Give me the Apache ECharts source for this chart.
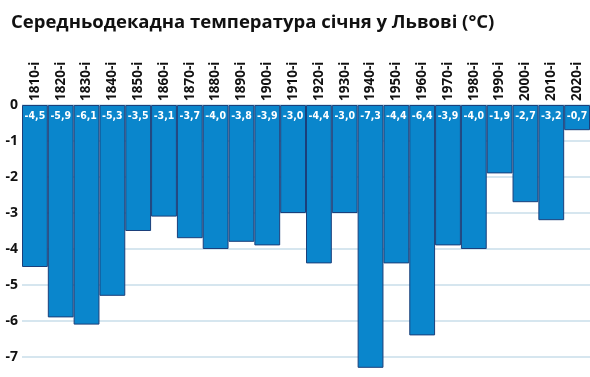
<!DOCTYPE html>
<html>
<head>
<meta charset="utf-8">
<script src="https://cdn.jsdelivr.net/npm/echarts@6/dist/echarts.min.js"></script>
<style>
  html, body { margin: 0; padding: 0; background: #fff; overflow: hidden; height: 377px; }
  #chart { width: 590px; height: 393px; }
</style>
</head>
<body>
<div id="chart"></div>
<script>
// декади і середня температура січня
const decades = ['1810-і', '1820-і', '1830-і', '1840-і', '1850-і', '1860-і', '1870-і', '1880-і',
  '1890-і', '1900-і', '1910-і', '1920-і', '1930-і', '1940-і', '1950-і', '1960-і',
  '1970-і', '1980-і', '1990-і', '2000-і', '2010-і', '2020-і'];
const temps = [-4.5, -5.9, -6.1, -5.3, -3.5, -3.1, -3.7, -4.0, -3.8, -3.9, -3.0,
  -4.4, -3.0, -7.3, -4.4, -6.4, -3.9, -4.0, -1.9, -2.7, -3.2, -0.7];
const yTicks = [0, -1, -2, -3, -4, -5, -6, -7];

let chart = echarts.init(document.getElementById('chart'));

let option = {
  animation: false,
  title: {
    text: 'Середньодекадна температура січня у Львові (°C)',
    left: 6,
    top: 8,
    textStyle: {
      fontFamily: 'Open Sans',
      fontWeight: 'bold',
      fontSize: 18.5,
      color: '#111',
    },
  },
  grid: {
    left: 22,
    right: 0,
    top: 105,
    bottom: 0,
  },
  xAxis: {
    type: 'category',
    position: 'top',
    data: decades,
    axisLine: { show: false },
    axisTick: { show: false },
    axisLabel: {
      rotate: 90,
      margin: 4,
      fontFamily: 'Open Sans',
      fontWeight: 'bold',
      fontSize: 13.5,
      color: '#111',
    },
  },
  yAxis: {
    type: 'value',
    min: -8,
    max: 0,
    interval: 1,
    axisLine: { show: false },
    axisTick: { show: false },
    splitLine: {
      lineStyle: { color: '#d6e6ef', width: 2 },
    },
    axisLabel: {
      margin: 4,
      fontFamily: 'Open Sans',
      fontWeight: 'bold',
      fontSize: 14,
      color: '#111',
      formatter: function(v) {
        return yTicks.indexOf(v) >= 0 ? String(v) : '';
      },
    },
  },
  series: [
    {
      type: 'bar',
      data: temps,
      barCategoryGap: 0,
      itemStyle: {
        color: '#0a86cc',
        borderColor: '#1b3f7a',
        borderWidth: 1,
      },
      label: {
        show: true,
        position: 'insideTop',
        distance: 6,
        fontFamily: 'DejaVu Sans Condensed, Roboto, sans-serif',
        fontWeight: 'bold',
        fontSize: 10.5,
        color: '#fff',
        formatter: function(p) {
          return p.value.toFixed(1).replace('.', ',');
        },
      },
    },
  ],
};

chart.setOption(option);
</script>
</body>
</html>
